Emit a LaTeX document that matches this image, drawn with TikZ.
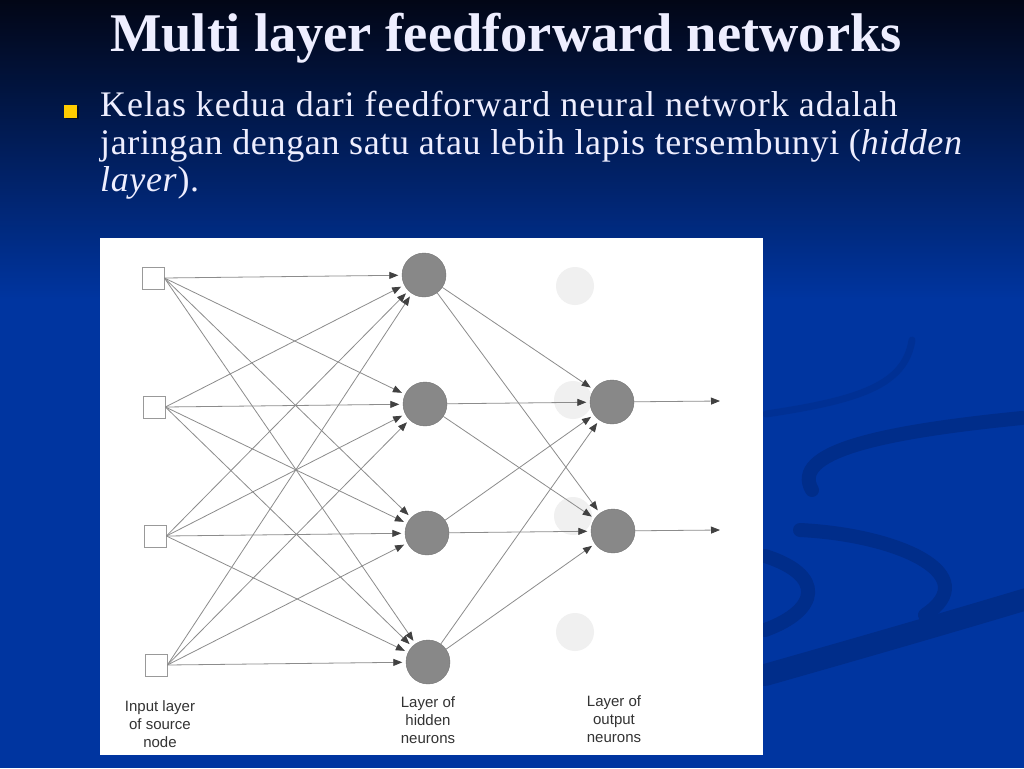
\documentclass[tikz,border=0pt]{standalone}
\usepackage{fontspec}
\setmainfont{Liberation Serif}
\newfontfamily\bodyfont[LetterSpace=2.7]{Liberation Serif}
\newfontfamily\bodyfontb[LetterSpace=1.8]{Liberation Serif}
\newfontfamily\labfont{Liberation Sans}
\usetikzlibrary{arrows.meta}
\definecolor{bgtop}{RGB}{2,6,22}
\definecolor{bgbot}{RGB}{0,53,160}
\definecolor{swirlc}{RGB}{0,45,138}
\definecolor{titlec}{RGB}{238,238,255}
\definecolor{bulletc}{RGB}{255,204,0}
\definecolor{linec}{RGB}{140,140,140}
\definecolor{tipc}{RGB}{65,65,65}
\definecolor{neuronc}{RGB}{136,136,136}
\definecolor{ghostc}{RGB}{240,240,240}
\begin{document}
\begin{tikzpicture}[x=1pt,y=-1pt,
  inbox/.style={draw=black!40, fill=white, minimum size=22pt, inner sep=0pt, line width=0.8pt},
  neuron/.style={circle, fill=neuronc, draw=neuronc!85!black, minimum size=44pt, inner sep=0pt, line width=0.4pt},
  ghost/.style={circle, fill=ghostc, minimum size=38pt, inner sep=0pt},
  conn/.style={draw=linec, line width=0.8pt, -{Triangle[length=9pt,width=7pt,color=tipc]}, shorten >=3.5pt},
  lab/.style={font=\labfont\fontsize{15}{18}\selectfont, text=black!80, align=center, inner sep=0pt},
  body/.style={text=titlec, inner sep=0pt, anchor=base west},
  swirl/.style={draw=swirlc, line cap=round}]
\useasboundingbox (0,0) rectangle (1024,768);
% background
\fill[top color=bgtop, bottom color=bgbot] (0,0) rectangle (1024,300);
\fill[bgbot] (0,299) rectangle (1024,768);
% swirls
\draw[swirl, line width=7pt, opacity=0.5] (912,340) .. controls (905,385) and (860,400) .. (766,414);
\draw[swirl, line width=14pt] (1022,418) .. controls (880,432) and (790,452) .. (812,490);
\draw[swirl, line width=14pt] (800,530) .. controls (900,535) and (985,575) .. (925,615);
\draw[swirl, line width=14pt] (765,556) .. controls (825,575) and (820,610) .. (765,630);
\draw[swirl, line width=22pt] (765,675) .. controls (860,648) and (950,622) .. (1030,598);
% title
\node[font=\fontsize{54.5}{60}\selectfont\bfseries, text=titlec, anchor=base, inner sep=0pt] (title) at (506,52) {Multi layer feedforward networks};
% bullet
\node[fill=black, opacity=0.5, minimum size=13pt, inner sep=0pt] (bulshadow) at (72,112.5) {};
\node[fill=bulletc, minimum size=13pt, inner sep=0pt] (bullet) at (70.5,111) {};
% body text
\node[body, font=\bodyfont\fontsize{36}{38}\selectfont] (t1) at (100,116) {Kelas kedua dari feedforward neural network adalah};
\node[body, font=\bodyfontb\fontsize{36}{38}\selectfont] (t2) at (100,154) {jaringan dengan satu atau lebih lapis tersembunyi (\textit{hidden}};
\node[body, font=\bodyfontb\fontsize{36}{38}\selectfont] (t3) at (100,191) {\textit{layer}).};
% picture box
\fill[white] (100,238) rectangle (763,755);
% ghost circles
\node[ghost] (g1) at (575,286) {};
\node[ghost] (g2) at (573,400) {};
\node[ghost] (g3) at (573,516) {};
\node[ghost] (g4) at (575,632) {};
% inputs
\node[inbox] (in1) at (153,278) {};
\node[inbox] (in2) at (154,407) {};
\node[inbox] (in3) at (155,536) {};
\node[inbox] (in4) at (156,665) {};
% hidden
\node[neuron] (h1) at (424,275) {};
\node[neuron] (h2) at (425,404) {};
\node[neuron] (h3) at (427,533) {};
\node[neuron] (h4) at (428,662) {};
% output
\node[neuron] (o1) at (612,402) {};
\node[neuron] (o2) at (613,531) {};
\coordinate (e1) at (720,401);
\coordinate (e2) at (720,530);
% connections
\foreach \i in {1,...,4}{\foreach \j in {1,...,4}{\draw[conn] (in\i.east) -- (h\j);}}
\foreach \j in {1,...,4}{\foreach \k in {1,2}{\draw[conn] (h\j) -- (o\k);}}
\draw[conn, shorten >=0pt] (o1) -- (e1);
\draw[conn, shorten >=0pt] (o2) -- (e2);
% labels
\node[lab] (l1) at (160,724) {Input layer\\of source\\node};
\node[lab] (l2) at (428,720) {Layer of\\hidden\\neurons};
\node[lab] (l3) at (614,719) {Layer of\\output\\neurons};
\end{tikzpicture}
\end{document}
